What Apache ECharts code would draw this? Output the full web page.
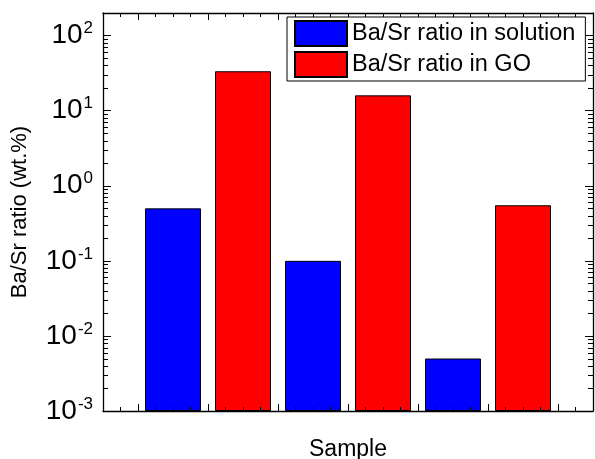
<!DOCTYPE html>
<html>
<head>
<meta charset="utf-8">
<script src="https://cdn.jsdelivr.net/npm/echarts@6/dist/echarts.min.js"></script>
<style>
html,body{margin:0;padding:0;background:#fff;}
#chart{width:595px;height:459px;}
</style>
</head>
<body>
<div id="chart"></div>
<script>
// ---- data ----
const seriesNames = ['Ba/Sr ratio in solution', 'Ba/Sr ratio in GO'];
const solutionSlots = [1, 3, 5];
const goSlots = [2, 4, 6];
const solutionRatio = [0.5, 0.1, 0.005];
const goRatio = [33.5, 16, 0.55];
const majorSlotCount = 7;      // major x ticks (category centres)
const minorSlotCount = 28;     // minor x ticks (category boundaries)
const yMin = 0.001, yMax = 200;
const minorMantissas = [2, 3, 4, 5, 6, 7, 8, 9];
const minorDecades = [-3, -2, -1, 0, 1];

const FONT = '"Liberation Sans", Arial, Helvetica, sans-serif';
const AX = '#000';

const minorTickValues = [];
minorDecades.forEach(d => minorMantissas.forEach(m => minorTickValues.push([0, m * Math.pow(10, d)])));

function pairs(xs, ys) { return xs.map((x, i) => [x, ys[i]]); }
function blanks(n) { return Array.from({length: n}, () => ''); }

function tickAxis(position, n, major) {
  return {
    type: 'category', position: position, data: blanks(n), boundaryGap: true,
    z: 10,
    axisLine: {show: false},
    axisLabel: {show: false},
    splitLine: {show: false},
    axisTick: {show: true, inside: true, alignWithLabel: major, interval: 0,
      length: major ? 7 : 4, lineStyle: {color: AX, width: 1}}
  };
}

const chart = echarts.init(document.getElementById('chart'), null, {renderer: 'canvas'});
chart.setOption({
  animation: false,
  backgroundColor: '#fff',
  textStyle: {fontFamily: FONT, color: '#000'},
  grid: {left: 103, right: 2, top: 13, bottom: 48, containLabel: false, outerBoundsMode: 'none'},
  legend: {
    data: seriesNames,
    orient: 'vertical', left: 287, top: 17,
    itemWidth: 52, itemHeight: 25, itemGap: 4,
    padding: [3, 10, 3, 7],
    borderColor: '#000', borderWidth: 1, backgroundColor: '#fff',
    selectedMode: false, icon: 'rect', z: 20,
    textStyle: {fontSize: 23.5, fontFamily: FONT, color: '#000'}
  },
  xAxis: [
    {
      type: 'value', min: 0, max: 7, position: 'bottom', z: 10,
      axisLine: {show: true, onZero: false, lineStyle: {color: AX, width: 1.3}},
      axisTick: {show: false}, axisLabel: {show: false}, splitLine: {show: false},
      name: 'Sample', nameLocation: 'middle', nameGap: 27,
      nameTextStyle: {fontSize: 23, fontFamily: FONT, color: '#000'}
    },
    tickAxis('bottom', majorSlotCount, true),
    tickAxis('bottom', minorSlotCount, false),
    Object.assign(tickAxis('top', majorSlotCount, true), {axisLine: {show: true, lineStyle: {color: AX, width: 1.3}}}),
    tickAxis('top', minorSlotCount, false)
  ],
  yAxis: [
    {
      type: 'log', logBase: 10, min: yMin, max: yMax, startValue: yMin, interval: 1, position: 'left', z: 10,
      axisLine: {show: true, onZero: false, lineStyle: {color: AX, width: 1.3}},
      axisTick: {show: true, inside: true, length: 8, lineStyle: {color: AX, width: 1}},
      splitLine: {show: false},
      axisLabel: {
        show: true, margin: 10, fontSize: 28, fontFamily: FONT, color: '#000',
        formatter: function (v) {
          const e = Math.log10(v);
          const r = Math.round(e);
          if (Math.abs(e - r) > 1e-6) return '';
          return '10{sup|' + r + '}';
        },
        rich: {sup: {fontSize: 17, fontFamily: FONT, color: '#000', verticalAlign: 'bottom', padding: [0, 0, 14, 1]}}
      },
      name: 'Ba/Sr ratio (wt.%)', nameLocation: 'middle', nameGap: 72, nameRotate: 90,
      nameTextStyle: {fontSize: 22, fontFamily: FONT, color: '#000'}
    },
    {
      type: 'log', logBase: 10, min: yMin, max: yMax, interval: 1, position: 'right', z: 10,
      axisLine: {show: true, onZero: false, lineStyle: {color: AX, width: 1.3}},
      axisTick: {show: true, inside: true, length: 8, lineStyle: {color: AX, width: 1}},
      splitLine: {show: false}, axisLabel: {show: false}
    }
  ],
  series: [
    {
      name: seriesNames[0], type: 'bar', xAxisIndex: 0, yAxisIndex: 0,
      data: pairs(solutionSlots, solutionRatio), barWidth: 56, barGap: '-100%',
      itemStyle: {color: '#0000ff', borderColor: '#000', borderWidth: 1}
    },
    {
      name: seriesNames[1], type: 'bar', xAxisIndex: 0, yAxisIndex: 0,
      data: pairs(goSlots, goRatio), barWidth: 56, barGap: '-100%',
      itemStyle: {color: '#ff0000', borderColor: '#000', borderWidth: 1}
    },
    {
      name: 'minor', type: 'custom', xAxisIndex: 0, yAxisIndex: 0, z: 15,
      silent: true, clip: false, legendHoverLink: false,
      encode: {x: 0, y: 1},
      data: minorTickValues,
      renderItem: function (params, api) {
        const p = api.coord([api.value(0), api.value(1)]);
        const cs = params.coordSys;
        const y = Math.round(p[1]) + 0.5;
        return {type: 'group', children: [
          {type: 'line', shape: {x1: cs.x, y1: y, x2: cs.x + 5, y2: y}, style: {stroke: AX, lineWidth: 1}},
          {type: 'line', shape: {x1: cs.x + cs.width - 5, y1: y, x2: cs.x + cs.width, y2: y}, style: {stroke: AX, lineWidth: 1}}
        ]};
      }
    }
  ]
});
</script>
</body>
</html>
